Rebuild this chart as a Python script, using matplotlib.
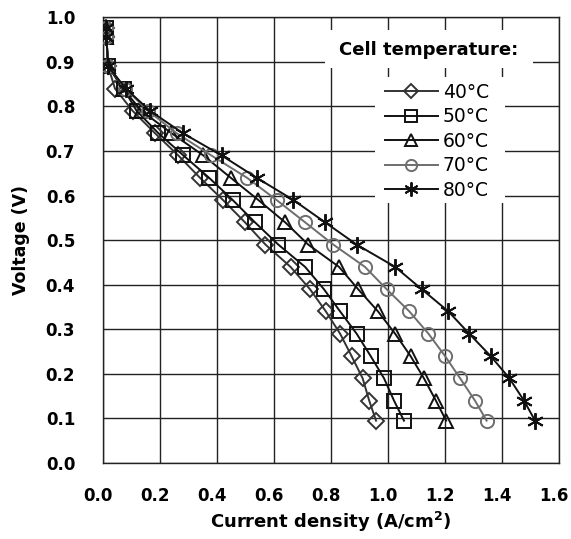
import matplotlib
matplotlib.use("Agg")
import matplotlib.pyplot as plt
import matplotlib.transforms as mtransforms
from matplotlib.patches import Rectangle

plt.rcParams['font.family'] = ['DejaVu Sans']

# ---- data ----
v_levels = [0.975, 0.955, 0.89, 0.84, 0.79, 0.74, 0.69, 0.64, 0.59, 0.54,
            0.49, 0.44, 0.39, 0.34, 0.29, 0.24, 0.19, 0.14, 0.095]

j_40 = [0.012, 0.012, 0.018, 0.042, 0.104, 0.182, 0.264, 0.340, 0.421, 0.498,
        0.570, 0.658, 0.726, 0.782, 0.832, 0.872, 0.911, 0.934, 0.958]
j_50 = [0.012, 0.012, 0.018, 0.072, 0.118, 0.194, 0.282, 0.372, 0.455, 0.533,
        0.615, 0.709, 0.775, 0.832, 0.890, 0.939, 0.986, 1.021, 1.056]
j_60 = [0.012, 0.012, 0.018, 0.070, 0.135, 0.240, 0.352, 0.448, 0.545, 0.639,
        0.720, 0.828, 0.895, 0.965, 1.025, 1.079, 1.126, 1.168, 1.204]
j_70 = [0.012, 0.012, 0.018, 0.078, 0.158, 0.258, 0.380, 0.505, 0.609, 0.709,
        0.808, 0.919, 0.995, 1.075, 1.142, 1.200, 1.253, 1.305, 1.346]
j_80 = [0.012, 0.012, 0.018, 0.080, 0.165, 0.280, 0.416, 0.539, 0.668, 0.779,
        0.890, 1.025, 1.118, 1.212, 1.285, 1.360, 1.426, 1.477, 1.516]

labels = ['40°C', '50°C', '60°C', '70°C', '80°C']
legend_title = 'Cell temperature:'
x_ticks = [0.0, 0.2, 0.4, 0.6, 0.8, 1.0, 1.2, 1.4, 1.6]
y_ticks = [0.0, 0.1, 0.2, 0.3, 0.4, 0.5, 0.6, 0.7, 0.8, 0.9, 1.0]

# ---- styles ----
series = [j_40, j_50, j_60, j_70, j_80]
markers = ['D', 's', '^', 'o', (6, 2, 0)]
msizes = [8.5, 10, 10.5, 9.5, 12]
colors = ['#333333', '#111111', '#111111', '#6e6e6e', '#111111']

fig = plt.figure(figsize=(5.71, 5.39), dpi=100)
ax = fig.add_axes([0.1804, 0.141, 0.7986, 0.827])

handles = []
for j, m, ms, c, lab in zip(series, markers, msizes, colors, labels):
    h, = ax.plot(j, v_levels, marker=m, markersize=ms, markerfacecolor='none',
                 markeredgecolor=c, markeredgewidth=1.4, color=c, lw=1.4,
                 label=lab, zorder=3)
    handles.append(h)

ax.set_xlim(0, 1.6)
ax.set_ylim(0, 1.0)
ax.set_xticks(x_ticks)
ax.set_yticks(y_ticks)
ax.set_xticklabels([f'{t:.1f}' for t in x_ticks])
ax.set_yticklabels([f'{t:.1f}' for t in y_ticks])
ax.tick_params(axis='x', length=0, labelsize=12, pad=17)
ax.tick_params(axis='y', length=0, labelsize=12, pad=20)
shift = mtransforms.ScaledTranslation(-5 / 100, 0, fig.dpi_scale_trans)
for lab in ax.get_xticklabels():
    lab.set_fontweight('bold')
    lab.set_transform(lab.get_transform() + shift)
for lab in ax.get_yticklabels():
    lab.set_fontweight('bold')
ax.grid(True, color='#222222', lw=1.0)
ax.set_axisbelow(True)
for s in ax.spines.values():
    s.set_color('#222222')
    s.set_linewidth(1.0)

ax.set_xlabel('Current density (A/cm$^\\mathbf{2}$)', fontsize=13,
              fontweight='bold', labelpad=4)
ax.set_ylabel('Voltage (V)', fontsize=12.5, fontweight='bold', labelpad=11)

# white boxes behind legend title and legend entries
ax.add_patch(Rectangle((0.487, 0.886), 0.456, 0.085, transform=ax.transAxes,
                       facecolor='white', edgecolor='none', zorder=2))
ax.add_patch(Rectangle((0.596, 0.583), 0.286, 0.282, transform=ax.transAxes,
                       facecolor='white', edgecolor='none', zorder=2))

leg = ax.legend(handles=handles, loc='upper left',
                bbox_to_anchor=(0.618, 0.853), frameon=False, fontsize=13.5,
                handlelength=2.83, handletextpad=0.27, labelspacing=0.29,
                borderpad=0, borderaxespad=0, markerscale=0.85)
leg.set_zorder(5)

ax.text(0.715, 0.915, legend_title, transform=ax.transAxes, ha='center',
        va='baseline', fontsize=13, fontweight='bold', zorder=6)

fig.savefig('out.png', dpi=100)
